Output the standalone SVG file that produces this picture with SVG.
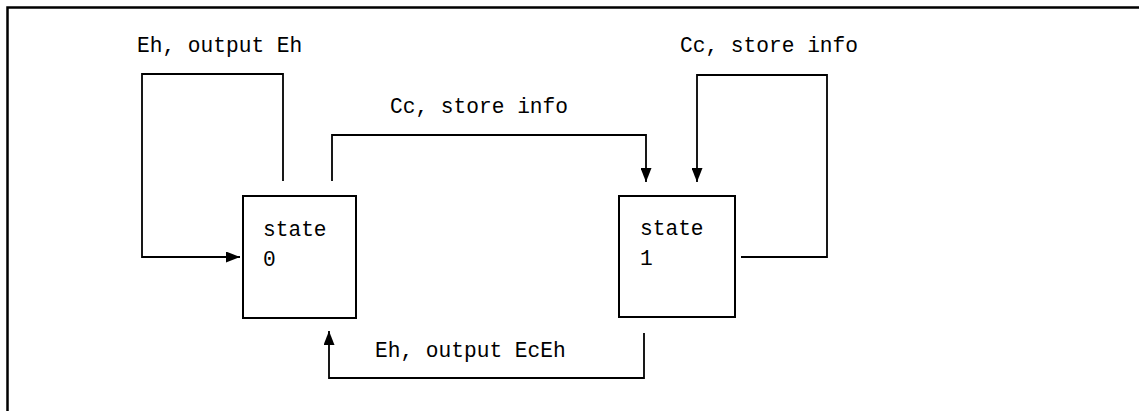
<svg xmlns="http://www.w3.org/2000/svg" width="1139" height="411" viewBox="0 0 1139 411">
  <style>
    .lbl { font-family: "Liberation Mono", "DejaVu Sans Mono", monospace; font-size: 21.2px; fill: #000; }
    .box { fill: #fff; stroke: #000; stroke-width: 2; }
    .wire { fill: none; stroke: #000; stroke-width: 1.8; }
  </style>
  <defs>
    <marker id="head" viewBox="0 0 14 11" refX="14" refY="5.5" markerWidth="14" markerHeight="11" markerUnits="userSpaceOnUse" orient="auto">
      <path d="M0,0 L14,5.5 L0,11 Z" fill="#000"/>
    </marker>
  </defs>

  <rect width="1139" height="411" fill="#fff"/>
  <!-- frame: top and left rules -->
  <path d="M7.5,411 L7.5,7.5 L1139,7.5" fill="none" stroke="#000" stroke-width="2.5"/>

  <g id="node-state0">
    <rect class="box" x="243" y="196" width="113" height="122"/>
    <text class="lbl" x="263" y="236">state</text>
    <text class="lbl" x="263" y="266">0</text>
  </g>

  <g id="node-state1">
    <rect class="box" x="619" y="196" width="116" height="121"/>
    <text class="lbl" x="640" y="235">state</text>
    <text class="lbl" x="640" y="265">1</text>
  </g>

  <g id="connectors">
    <!-- state 0 self loop -->
    <path class="wire" d="M283,181 L283,74 L142,74 L142,257 L240,257" marker-end="url(#head)"/>
    <!-- state 0 to state 1 -->
    <path class="wire" d="M332,181 L332,135 L646,135 L646,182" marker-end="url(#head)"/>
    <!-- state 1 self loop -->
    <path class="wire" d="M741,257 L827,257 L827,75 L697,75 L697,182" marker-end="url(#head)"/>
    <!-- state 1 back to state 0 -->
    <path class="wire" d="M644,333 L644,378 L329,378 L329,331" marker-end="url(#head)"/>
  </g>

  <g id="labels">
    <text class="lbl" x="137" y="52">Eh, output Eh</text>
    <text class="lbl" x="390" y="113">Cc, store info</text>
    <text class="lbl" x="680" y="52">Cc, store info</text>
    <text class="lbl" x="375" y="357">Eh, output EcEh</text>
  </g>
</svg>
